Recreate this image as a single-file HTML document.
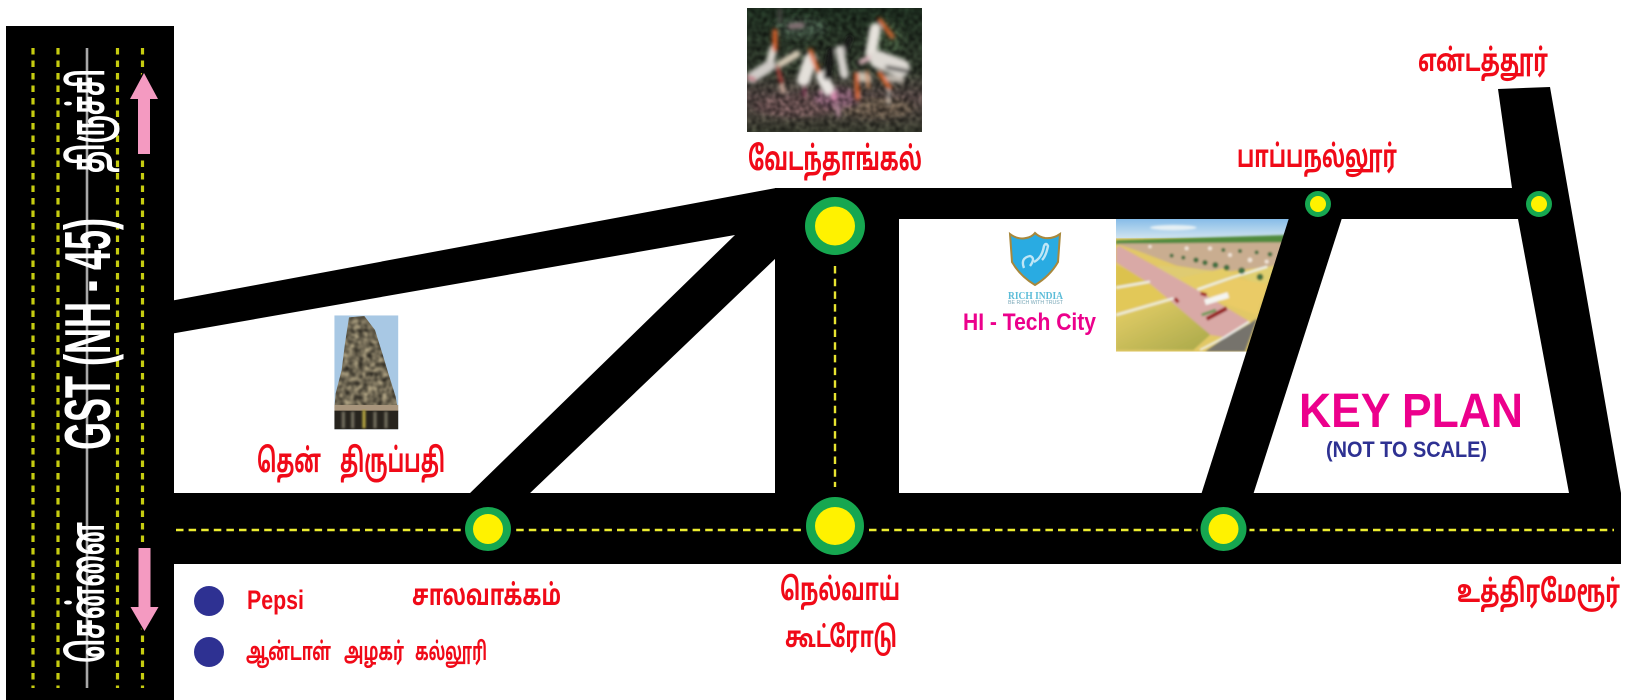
<!DOCTYPE html>
<html><head><meta charset="utf-8"><title>Key Plan</title>
<style>
html,body{margin:0;padding:0;background:#fff;width:1635px;height:700px;overflow:hidden}
svg{display:block;filter:blur(.35px)}
text{font-family:"Liberation Sans","Noto Sans Tamil","Lohit Tamil","Noto Sans CJK SC",sans-serif;font-weight:bold}
.r{fill:#f00a18}
</style></head><body>
<svg width="1635" height="700" viewBox="0 0 1635 700" xmlns="http://www.w3.org/2000/svg">
<defs>
<filter id="b1" x="-5%" y="-5%" width="110%" height="110%"><feGaussianBlur stdDeviation="3"/></filter>
<filter id="b3" x="-20%" y="-20%" width="140%" height="140%"><feGaussianBlur stdDeviation="6"/></filter>
<filter id="b2" x="-10%" y="-10%" width="120%" height="120%"><feGaussianBlur stdDeviation="9"/></filter>
<filter id="n" x="0" y="0" width="100%" height="100%" color-interpolation-filters="sRGB"><feTurbulence type="fractalNoise" baseFrequency=".07" numOctaves="2" seed="3"/><feColorMatrix values="1.6 0 0 0 -.3 1.6 0 0 0 -.3 1.6 0 0 0 -.3 0 0 0 0 1"/><feGaussianBlur stdDeviation="3"/></filter>
<clipPath id="cb"><rect x="0" y="0" width="525" height="372"/></clipPath>
<clipPath id="ct"><rect x="28" y="16" width="192" height="342"/></clipPath>
<clipPath id="tw"><polygon points="72,22 118,18 150,60 172,130 190,190 212,260 218,295 28,295 32,250 50,180 60,100"/></clipPath>
<clipPath id="cl"><rect x="18" y="12" width="530" height="398"/></clipPath>
<linearGradient id="sky" x1="0" y1="0" x2="0" y2="1"><stop offset="0" stop-color="#86bce8"/><stop offset=".6" stop-color="#bcd9ee"/><stop offset="1" stop-color="#dfeaf0"/></linearGradient>
<linearGradient id="bg" x1="0" y1="0" x2="0" y2="1"><stop offset="0" stop-color="#1b2a1d"/><stop offset=".5" stop-color="#2b3327"/><stop offset=".72" stop-color="#4f4240"/><stop offset="1" stop-color="#35382c"/></linearGradient>
<linearGradient id="fg" x1="0" y1="0" x2="1" y2="1"><stop offset="0" stop-color="#e8d068"/><stop offset="1" stop-color="#a8a84a"/></linearGradient>
</defs>

<!-- bird photo -->
<g transform="translate(747,8) scale(.3333)">
<g clip-path="url(#cb)">
<rect width="525" height="372" fill="url(#bg)"/>
<g filter="url(#b2)">
<ellipse cx="160" cy="60" rx="80" ry="30" fill="#39493a"/>
<ellipse cx="420" cy="90" rx="50" ry="50" fill="#33422f"/>
<ellipse cx="150" cy="295" rx="130" ry="32" fill="#5e4a48"/>
<ellipse cx="390" cy="300" rx="110" ry="32" fill="#5b5042"/>
<ellipse cx="270" cy="270" rx="70" ry="30" fill="#70505f"/>
</g>
<rect width="525" height="372" fill="#888" filter="url(#n)" style="mix-blend-mode:overlay" opacity=".6"/>
<g filter="url(#b3)" fill="none" stroke-linecap="round">
<path d="M78 125 L70 160" stroke="#dcd8d0" stroke-width="24"/>
<path d="M15 208 L70 172" stroke="#cfcbc7" stroke-width="34"/>
<path d="M100 168 L150 138" stroke="#d4c9b4" stroke-width="22"/>
<path d="M170 215 L190 155" stroke="#e4e0da" stroke-width="40"/>
<path d="M225 205 L245 245" stroke="#e9e5e1" stroke-width="36"/>
<path d="M252 130 L240 205" stroke="#161616" stroke-width="22"/>
<path d="M308 92 L292 130" stroke="#151515" stroke-width="20"/>
<path d="M278 125 L292 200" stroke="#d4d0cc" stroke-width="26"/>
<path d="M385 62 L372 135" stroke="#e6e2dc" stroke-width="34"/>
<path d="M342 162 L378 145" stroke="#dcb4bc" stroke-width="15"/>
<path d="M395 155 L462 180" stroke="#dedad4" stroke-width="54"/>
<path d="M420 178 L482 190" stroke="#1c1c1c" stroke-width="11"/>
<path d="M420 210 L462 215" stroke="#bdb5ac" stroke-width="20"/>
<path d="M338 205 L360 210" stroke="#c8c0b0" stroke-width="30"/>
<path d="M84 70 L84 125" stroke="#e0602a" stroke-width="14"/>
<path d="M190 128 L213 188" stroke="#e06a2a" stroke-width="13"/>
<path d="M398 36 L436 86" stroke="#e0642a" stroke-width="12"/>
<path d="M398 195 L428 240" stroke="#e0682a" stroke-width="13"/>
<path d="M328 198 L332 270" stroke="#e0642a" stroke-width="12"/>
<path d="M360 190 L364 238" stroke="#d0804a" stroke-width="8"/>
<path d="M92 178 L104 225" stroke="#c43a38" stroke-width="9"/>
<path d="M5 208 L22 215" stroke="#c04060" stroke-width="9"/>
<path d="M425 245 L425 288" stroke="#d4ccc4" stroke-width="7"/>
<path d="M172 235 L172 262" stroke="#8a3a5c" stroke-width="9"/>
<path d="M260 258 L262 272" stroke="#d88cb0" stroke-width="18"/>
<path d="M272 290 L274 322" stroke="#d0a0b4" stroke-width="10"/>
<path d="M105 235 L108 250" stroke="#dcb8a8" stroke-width="14"/>
<path d="M130 55 L165 52" stroke="#8a7278" stroke-width="16"/>
<path d="M98 5 L98 40" stroke="#4a4a44" stroke-width="12"/>
</g>
</g>
</g>

<!-- temple photo -->
<g transform="translate(325,310) scale(.3333)">
<g clip-path="url(#ct)">
<rect x="28" y="16" width="192" height="342" fill="#a8c8e4"/>
<g clip-path="url(#tw)">
<rect x="20" y="10" width="210" height="290" fill="#6e6652"/>
<rect x="20" y="10" width="210" height="290" fill="#888" filter="url(#n)" style="mix-blend-mode:overlay" opacity=".75"/>
</g>
<rect x="28" y="285" width="192" height="20" fill="#a8957c"/>
<rect x="28" y="302" width="192" height="56" fill="#27241e"/>
<g fill="#6e6a5c" filter="url(#b1)"><rect x="50" y="305" width="10" height="50"/><rect x="78" y="305" width="10" height="50"/><rect x="112" y="300" width="10" height="55" fill="#b0a040"/><rect x="145" y="305" width="10" height="50"/><rect x="178" y="305" width="10" height="50"/></g>
</g>
</g>

<!-- layout photo -->
<g transform="translate(1110,215) scale(.3333)">
<g clip-path="url(#cl)">
<rect x="18" y="12" width="530" height="70" fill="url(#sky)"/>
<rect x="18" y="70" width="530" height="340" fill="#e2c866"/>
<g filter="url(#b1)">
<ellipse cx="190" cy="38" rx="70" ry="8" fill="#e6f0f4"/>
<polygon points="18,76 530,60 530,86 18,88" fill="#4f8a3c"/>
<polygon points="18,86 530,82 500,152 330,172 200,152 90,110" fill="#c9ad90"/>
<polygon points="150,152 300,166 370,176 250,215 130,165" fill="#dfcb72"/>
<polygon points="385,178 500,150 470,205 425,200" fill="#e0cf70"/>
<polygon points="205,190 340,160 372,176 260,224" fill="#e4cc66"/>
<polygon points="268,226 382,190 470,208 440,300 362,272" fill="#eacb66"/>
<polygon points="18,150 110,185 120,198 18,216" fill="#dcc24e"/>
<polygon points="18,222 120,204 175,245 18,296" fill="#e2c858"/>
<polygon points="18,305 190,258 305,355 250,405 18,405" fill="url(#fg)"/>
<polygon points="26,92 130,150 270,230 416,318 340,366 302,360 125,210 18,142 18,100" fill="#d9a9a6"/>
<polygon points="285,410 345,368 420,325 442,310 405,410" fill="#76736c"/>
<path d="M18 300 L190 250 M18 218 L120 200 M262 224 L370 186 L472 155" stroke="#eef0e6" stroke-width="7" fill="none"/>
<path d="M270 405 L345 366 L418 320" stroke="#eeeeea" stroke-width="6" fill="none"/>
<path d="M290 312 L350 280" stroke="#962020" stroke-width="12"/>
<path d="M272 235 L290 240 M195 250 L205 262" stroke="#a02020" stroke-width="10"/>
<path d="M285 262 L355 240" stroke="#f4f4f0" stroke-width="18"/>
<path d="M275 300 L318 285" stroke="#6f9a58" stroke-width="9"/>
<g fill="#3f7040"><circle cx="185" cy="122" r="6"/><circle cx="220" cy="128" r="6"/><circle cx="258" cy="135" r="8"/><circle cx="285" cy="143" r="8"/><circle cx="316" cy="150" r="9"/><circle cx="350" cy="158" r="9"/><circle cx="395" cy="167" r="10"/><circle cx="450" cy="186" r="10"/><circle cx="480" cy="118" r="7"/><circle cx="440" cy="112" r="6"/><circle cx="390" cy="108" r="6"/><circle cx="340" cy="105" r="6"/></g>
<g fill="#f0e4d8"><circle cx="300" cy="100" r="6"/><circle cx="360" cy="120" r="6"/><circle cx="420" cy="135" r="7"/><circle cx="230" cy="100" r="6"/><circle cx="120" cy="95" r="5"/><circle cx="470" cy="140" r="6"/></g>
</g>
</g>
</g>

<!-- roads -->
<rect x="6" y="26" width="168" height="674" fill="#000"/>
<rect x="170" y="493" width="1451" height="71" fill="#000"/>
<rect x="775" y="188" width="745" height="31" fill="#000"/>
<rect x="775" y="188" width="124" height="305" fill="#000"/>
<polygon points="170,301 776,188 776,258 528,495 468,495 735,235 170,334" fill="#000"/>
<polygon points="1201,495 1253,495 1342,218 1289,218" fill="#000"/>
<polygon points="1498,89 1550,87 1621,493 1621,500 1569,500 1569,493 1518,219 1512,188" fill="#000"/>

<!-- lane dashes -->
<g fill="none" stroke="#c6cc10" stroke-width="3.2" stroke-dasharray="6.5 6">
<path d="M33 48V688M58 48V688M117.5 48V688M142.5 48V688"/>
</g>
<path d="M87 48V688" stroke="#a8a8a8" stroke-width="2.6" fill="none"/>
<path d="M176 530H1614" stroke="#ecec30" stroke-width="2.6" fill="none" stroke-dasharray="7.5 5.1"/>
<path d="M835 266V487" stroke="#e8e430" stroke-width="2.4" fill="none" stroke-dasharray="7.5 5.2"/>

<!-- arrows -->
<polygon points="144,73 158,99 150,99 150,154 138,154 138,99 130,99" fill="#f49ac1" stroke="#000" stroke-width="3" paint-order="stroke"/>
<polygon points="144.5,631 130.5,607 138.5,607 138.5,548 150.5,548 150.5,607 158.5,607" fill="#f49ac1" stroke="#000" stroke-width="3" paint-order="stroke"/>

<!-- nodes -->
<g stroke="#000" stroke-width="6" paint-order="stroke">
<ellipse cx="835" cy="226" rx="30" ry="29" fill="#16a750"/>
<ellipse cx="835" cy="526" rx="29" ry="29" fill="#16a750"/>
<ellipse cx="488" cy="529" rx="23" ry="22" fill="#16a750"/>
<ellipse cx="1223.5" cy="529" rx="23" ry="22" fill="#16a750"/>
<circle cx="1318" cy="204" r="13" fill="#16a750"/>
<circle cx="1539" cy="204" r="13" fill="#16a750"/>
</g>
<g fill="#fff200">
<ellipse cx="835" cy="226" rx="20" ry="19.5"/>
<ellipse cx="835" cy="526" rx="20" ry="19"/>
<ellipse cx="488" cy="529" rx="15" ry="15"/>
<ellipse cx="1223.5" cy="529" rx="15" ry="15"/>
<circle cx="1318" cy="204" r="8"/>
<circle cx="1539" cy="204" r="8"/>
</g>

<!-- legend dots -->
<ellipse cx="209" cy="601" rx="15" ry="15" fill="#2e3192"/>
<ellipse cx="209" cy="652" rx="15" ry="15" fill="#2e3192"/>

<!-- logo -->
<path d="M1010 234 Q1018 240 1026 238 Q1032 237 1035 233 Q1039 237 1045 238 Q1053 239 1060 234 L1058 262 Q1050 276 1035 285 Q1020 276 1012 262 Z" fill="#29abe2" stroke="#a8883c" stroke-width="2"/>
<path d="M1024 268 Q1020 258 1030 256 Q1036 258 1030 266 M1034 262 Q1042 258 1044 246 Q1046 242 1048 246 Q1046 256 1042 260" fill="none" stroke="#bfe6f6" stroke-width="2.4"/>
<text x="1008" y="299" font-size="11" fill="#5bbcd8" style="font-family:'Liberation Serif',serif" textLength="55" lengthAdjust="spacingAndGlyphs">RICH INDIA</text>
<text x="1008" y="304" font-size="5" fill="#7aa8b8" style="font-weight:normal" textLength="55" lengthAdjust="spacingAndGlyphs">BE RICH WITH TRUST</text>

<!-- road labels -->
<g fill="#fff">
<text transform="translate(110,450) rotate(-90)" font-size="65" textLength="232" lengthAdjust="spacingAndGlyphs">GST (NH - 45)</text>
<text transform="translate(104,663) rotate(-90)" font-size="48" textLength="141" lengthAdjust="spacingAndGlyphs">சென்னை</text>
<text transform="translate(104,173) rotate(-90)" font-size="48" textLength="104" lengthAdjust="spacingAndGlyphs">திருச்சி</text>
</g>

<!-- place labels -->
<g class="r">
<text x="748" y="170" font-size="33" textLength="174" lengthAdjust="spacingAndGlyphs">வேடந்தாங்கல்</text>
<text x="1237" y="167" font-size="31" textLength="160" lengthAdjust="spacingAndGlyphs">பாப்பநல்லூர்</text>
<text x="1418" y="71" font-size="31" textLength="130" lengthAdjust="spacingAndGlyphs">என்டத்தூர்</text>
<text x="257" y="472" font-size="33" textLength="64" lengthAdjust="spacingAndGlyphs">தென்</text>
<text x="340" y="472" font-size="33" textLength="105" lengthAdjust="spacingAndGlyphs">திருப்பதி</text>
<text x="412" y="605" font-size="29" textLength="149" lengthAdjust="spacingAndGlyphs">சாலவாக்கம்</text>
<text x="247" y="609" font-size="27" textLength="57" lengthAdjust="spacingAndGlyphs">Pepsi</text>
<text x="246" y="660" font-size="25" textLength="85" lengthAdjust="spacingAndGlyphs">ஆன்டாள்</text>
<text x="344" y="660" font-size="25" textLength="60" lengthAdjust="spacingAndGlyphs">அழகர்</text>
<text x="415" y="660" font-size="25" textLength="72" lengthAdjust="spacingAndGlyphs">கல்லூரி</text>
<text x="780" y="600" font-size="31" textLength="120" lengthAdjust="spacingAndGlyphs">நெல்வாய்</text>
<text x="785" y="647" font-size="29" textLength="112" lengthAdjust="spacingAndGlyphs">கூட்ரோடு</text>
<text x="1457" y="602" font-size="31" textLength="163" lengthAdjust="spacingAndGlyphs">உத்திரமேரூர்</text>
</g>
<text x="1299" y="427" font-size="48" fill="#ec008c" textLength="224" lengthAdjust="spacingAndGlyphs">KEY PLAN</text>
<text x="1326" y="457" font-size="22" fill="#2e3192" textLength="161" lengthAdjust="spacingAndGlyphs">(NOT TO SCALE)</text>
<text x="963" y="330" font-size="24" fill="#ec008c" textLength="133" lengthAdjust="spacingAndGlyphs">HI - Tech City</text>
</svg>
</body></html>
